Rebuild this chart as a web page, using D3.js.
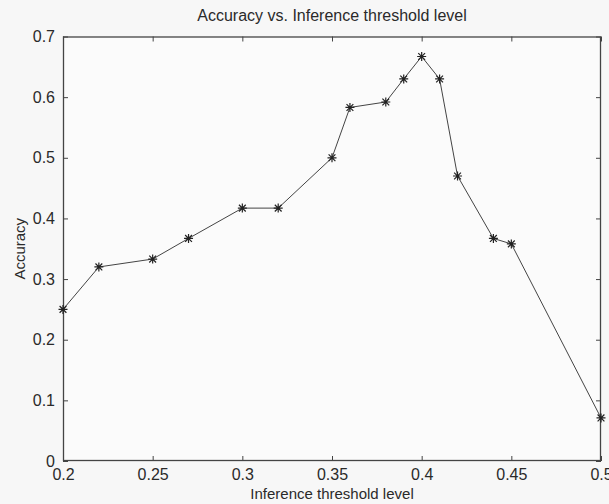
<!DOCTYPE html>
<html>
<head>
<meta charset="utf-8">
<script src="https://cdn.jsdelivr.net/npm/d3@7"></script>
<style>
  html, body { margin: 0; padding: 0; background: #f7f7f7; }
  svg text { font-family: "Liberation Sans", Arial, sans-serif; fill: #2a2a2a; }
</style>
</head>
<body>
<svg id="chart" width="609" height="504"></svg>
<script>
// Inference threshold levels and the accuracy measured at each one
const thresholds = [0.20, 0.22, 0.25, 0.27, 0.30, 0.32, 0.35, 0.36, 0.38, 0.39, 0.40, 0.41, 0.42, 0.44, 0.45, 0.50];
const accuracy   = [0.250, 0.320, 0.333, 0.367, 0.417, 0.417, 0.500, 0.583, 0.592, 0.630, 0.667, 0.630, 0.470, 0.367, 0.358, 0.071];
const xTicks = [0.2, 0.25, 0.3, 0.35, 0.4, 0.45, 0.5];
const yTicks = [0, 0.1, 0.2, 0.3, 0.4, 0.5, 0.6, 0.7];

const svg = d3.select("#chart");
const plotL = 63, plotR = 601, plotT = 36.5, plotB = 461;

const x = d3.scaleLinear().domain([0.2, 0.5]).range([plotL, plotR]);
const y = d3.scaleLinear().domain([0, 0.7]).range([plotB, plotT]);

const axisColor = "#444";

// plot background
svg.append("rect")
  .attr("x", plotL).attr("y", plotT)
  .attr("width", plotR - plotL).attr("height", plotB - plotT)
  .attr("fill", "#fbfbfb");

const tickLen = 5;
const fmt = d => (d === 0 ? "0" : String(d));

// bottom axis with ticks pointing inward
svg.append("g")
  .attr("transform", `translate(0,${plotB})`)
  .call(d3.axisBottom(x).tickValues(xTicks).tickSizeInner(-tickLen).tickSizeOuter(0).tickPadding(8).tickFormat(fmt))
  .call(g => g.select(".domain").remove())
  .call(g => g.selectAll("line").attr("stroke", axisColor))
  .call(g => g.selectAll("text").attr("font-size", 16).attr("fill", "#2a2a2a"));

// top ticks
svg.append("g")
  .attr("transform", `translate(0,${plotT})`)
  .call(d3.axisTop(x).tickValues(xTicks).tickSizeInner(-tickLen).tickSizeOuter(0).tickFormat(""))
  .call(g => g.select(".domain").remove())
  .call(g => g.selectAll("line").attr("stroke", axisColor));

// left axis
svg.append("g")
  .attr("transform", `translate(${plotL},0)`)
  .call(d3.axisLeft(y).tickValues(yTicks).tickSizeInner(-tickLen).tickSizeOuter(0).tickPadding(8).tickFormat(fmt))
  .call(g => g.select(".domain").remove())
  .call(g => g.selectAll("line").attr("stroke", axisColor))
  .call(g => g.selectAll("text").attr("font-size", 16).attr("fill", "#2a2a2a"));

// right ticks
svg.append("g")
  .attr("transform", `translate(${plotR},0)`)
  .call(d3.axisRight(y).tickValues(yTicks).tickSizeInner(-tickLen).tickSizeOuter(0).tickFormat(""))
  .call(g => g.select(".domain").remove())
  .call(g => g.selectAll("line").attr("stroke", axisColor));

// box frame
svg.append("rect")
  .attr("x", plotL + 0.5).attr("y", plotT + 0.5)
  .attr("width", plotR - plotL - 1).attr("height", plotB - plotT - 1)
  .attr("fill", "none").attr("stroke", axisColor).attr("stroke-width", 1.3);

// data line
const pts = thresholds.map((t, i) => [t, accuracy[i]]);
svg.append("path")
  .datum(pts)
  .attr("fill", "none")
  .attr("stroke", "#444")
  .attr("stroke-width", 1)
  .attr("d", d3.line().x(d => x(d[0])).y(d => y(d[1])));

// asterisk markers
const s = 4.5, sd = 3.4;
const star = `M${-s},0L${s},0M0,${-s}L0,${s}M${-sd},${-sd}L${sd},${sd}M${-sd},${sd}L${sd},${-sd}`;
svg.append("g").selectAll("path")
  .data(pts)
  .join("path")
  .attr("transform", d => `translate(${x(d[0])},${y(d[1])})`)
  .attr("d", star)
  .attr("fill", "none")
  .attr("stroke", "#222")
  .attr("stroke-width", 1.2);

// labels
svg.append("text")
  .attr("x", (plotL + plotR) / 2).attr("y", 21)
  .attr("text-anchor", "middle").attr("font-size", 16)
  .text("Accuracy vs. Inference threshold level");

svg.append("text")
  .attr("x", (plotL + plotR) / 2).attr("y", 499)
  .attr("text-anchor", "middle").attr("font-size", 15)
  .text("Inference threshold level");

svg.append("text")
  .attr("transform", `translate(25,${(plotT + plotB) / 2}) rotate(-90)`)
  .attr("text-anchor", "middle").attr("font-size", 15)
  .text("Accuracy");
</script>
</body>
</html>
